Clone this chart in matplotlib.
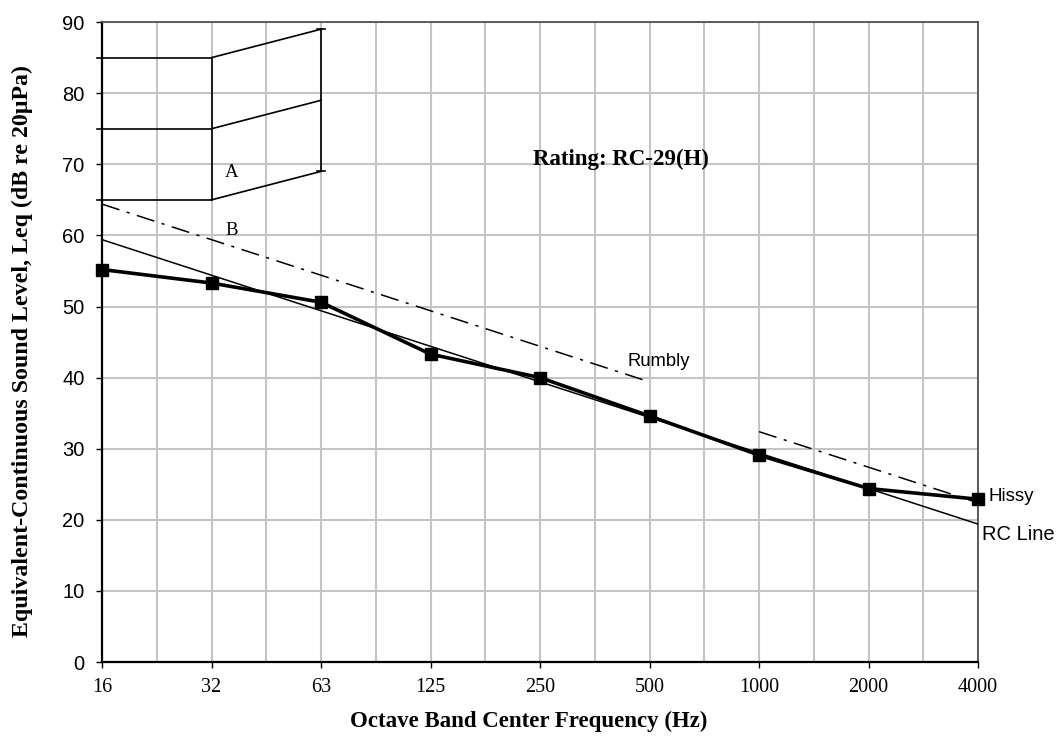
import matplotlib
matplotlib.use("Agg")
import matplotlib.pyplot as plt
import numpy as np

freq_labels = ["16", "32", "63", "125", "250", "500", "1000", "2000", "4000"]
measured = [55.2, 53.3, 50.6, 43.3, 40.0, 34.6, 29.1, 24.4, 22.9]
rc_line = [59.4, 19.4]          # at 16 Hz and 4000 Hz
rumbly_line = [64.4, 39.4]      # at 16 Hz and 500 Hz
hissy_line = [32.4, 22.4]       # at 1000 Hz and 4000 Hz
box_levels = [85, 75, 65]       # region A horizontal lines (16-32 Hz)
box_end_levels = [89, 79, 69]   # at 63 Hz

x = np.arange(len(freq_labels))

fig = plt.figure(figsize=(10.57, 7.36), dpi=100)
ax = fig.add_axes([0.0965, 0.1005, 0.8288, 0.8695])

ax.set_xlim(0, 8)
ax.set_ylim(0, 90)
ax.set_xticks(x)
ax.set_xticklabels(freq_labels, fontfamily="Liberation Serif", fontsize=14.5)
ax.set_xticks(np.arange(0.5, 8, 1), minor=True)
ax.set_yticks(np.arange(0, 91, 10))
for t in ax.get_yticklabels():
    t.set_fontfamily("Liberation Sans")
    t.set_fontsize(14.5)
ax.tick_params(axis="x", which="major", direction="out", length=4.5, width=1, pad=7)
ax.tick_params(axis="x", which="minor", length=0)
ax.tick_params(axis="y", direction="out", length=4.5, width=1, pad=8)

ax.grid(True, which="both", axis="x", color="#c4c4c4", lw=1.5)
ax.grid(True, which="major", axis="y", color="#c4c4c4", lw=1.5)
ax.set_axisbelow(True)

for s in ["left", "bottom"]:
    ax.spines[s].set_color("black")
    ax.spines[s].set_linewidth(1.6)
for s in ["top", "right"]:
    ax.spines[s].set_color("#505050")
    ax.spines[s].set_linewidth(1.3)

# RC line
ax.plot([x[0], x[8]], rc_line, color="black", lw=1.1, zorder=3)
# Rumbly and Hissy dash-dot lines
ax.plot([x[0], x[5]], rumbly_line, color="black", lw=1.1, dashes=(12, 5, 2, 5), zorder=3)
ax.plot([x[6], x[8]], hissy_line, color="black", lw=1.1, dashes=(12, 5, 2, 5), zorder=3)

# Measured spectrum
ax.plot(x, measured, color="black", lw=2.6, marker="s", markersize=8.5, zorder=4,
        clip_on=False)

# Region A box diagram
for lo, hi in zip(box_levels, box_end_levels):
    ax.plot([-0.05, x[1]], [lo, lo], color="black", lw=1.2, clip_on=False, zorder=3)
    ax.plot([x[1], x[2]], [lo, hi], color="black", lw=1.2, zorder=3)
ax.plot([x[1], x[1]], [box_levels[2], box_levels[0]], color="black", lw=1.2, zorder=3)
ax.plot([x[2], x[2]], [box_end_levels[2], box_end_levels[0]], color="black", lw=1.2, zorder=3)
for v in [box_end_levels[0], box_end_levels[2]]:
    ax.plot([x[2] - 0.04, x[2] + 0.04], [v, v], color="black", lw=1.2, zorder=3)

ax.text(1.18, 68.9, "A", fontfamily="Liberation Serif", fontsize=13.5, ha="center", va="center")
ax.text(1.18, 60.7, "B", fontfamily="Liberation Serif", fontsize=13.5, ha="center", va="center")
ax.text(4.74, 70.7, "Rating: RC-29(H)", fontfamily="Liberation Serif", fontsize=16.5,
        fontweight="bold", ha="center", va="center")
ax.text(4.8, 42.2, "Rumbly", fontfamily="Liberation Sans", fontsize=13.2, ha="left", va="center")
ax.text(8.1, 23.3, "Hissy", fontfamily="Liberation Sans", fontsize=13.5, ha="left", va="center",
        clip_on=False)
ax.text(8.04, 18.0, "RC Line", fontfamily="Liberation Sans", fontsize=14.5, ha="left", va="center",
        clip_on=False)

fig.text(0.5, 1 - 727 / 736, "Octave Band Center Frequency (Hz)", fontfamily="Liberation Serif",
         fontsize=16.5, fontweight="bold", ha="center", va="baseline")
fig.text(0.021, 0.523, "Equivalent-Continuous Sound Level, Leq (dB re 20\u00b5Pa)",
         fontfamily="Liberation Serif", fontsize=17.2, fontweight="bold", rotation=90,
         ha="center", va="center")

fig.savefig("out.png", dpi=100)
